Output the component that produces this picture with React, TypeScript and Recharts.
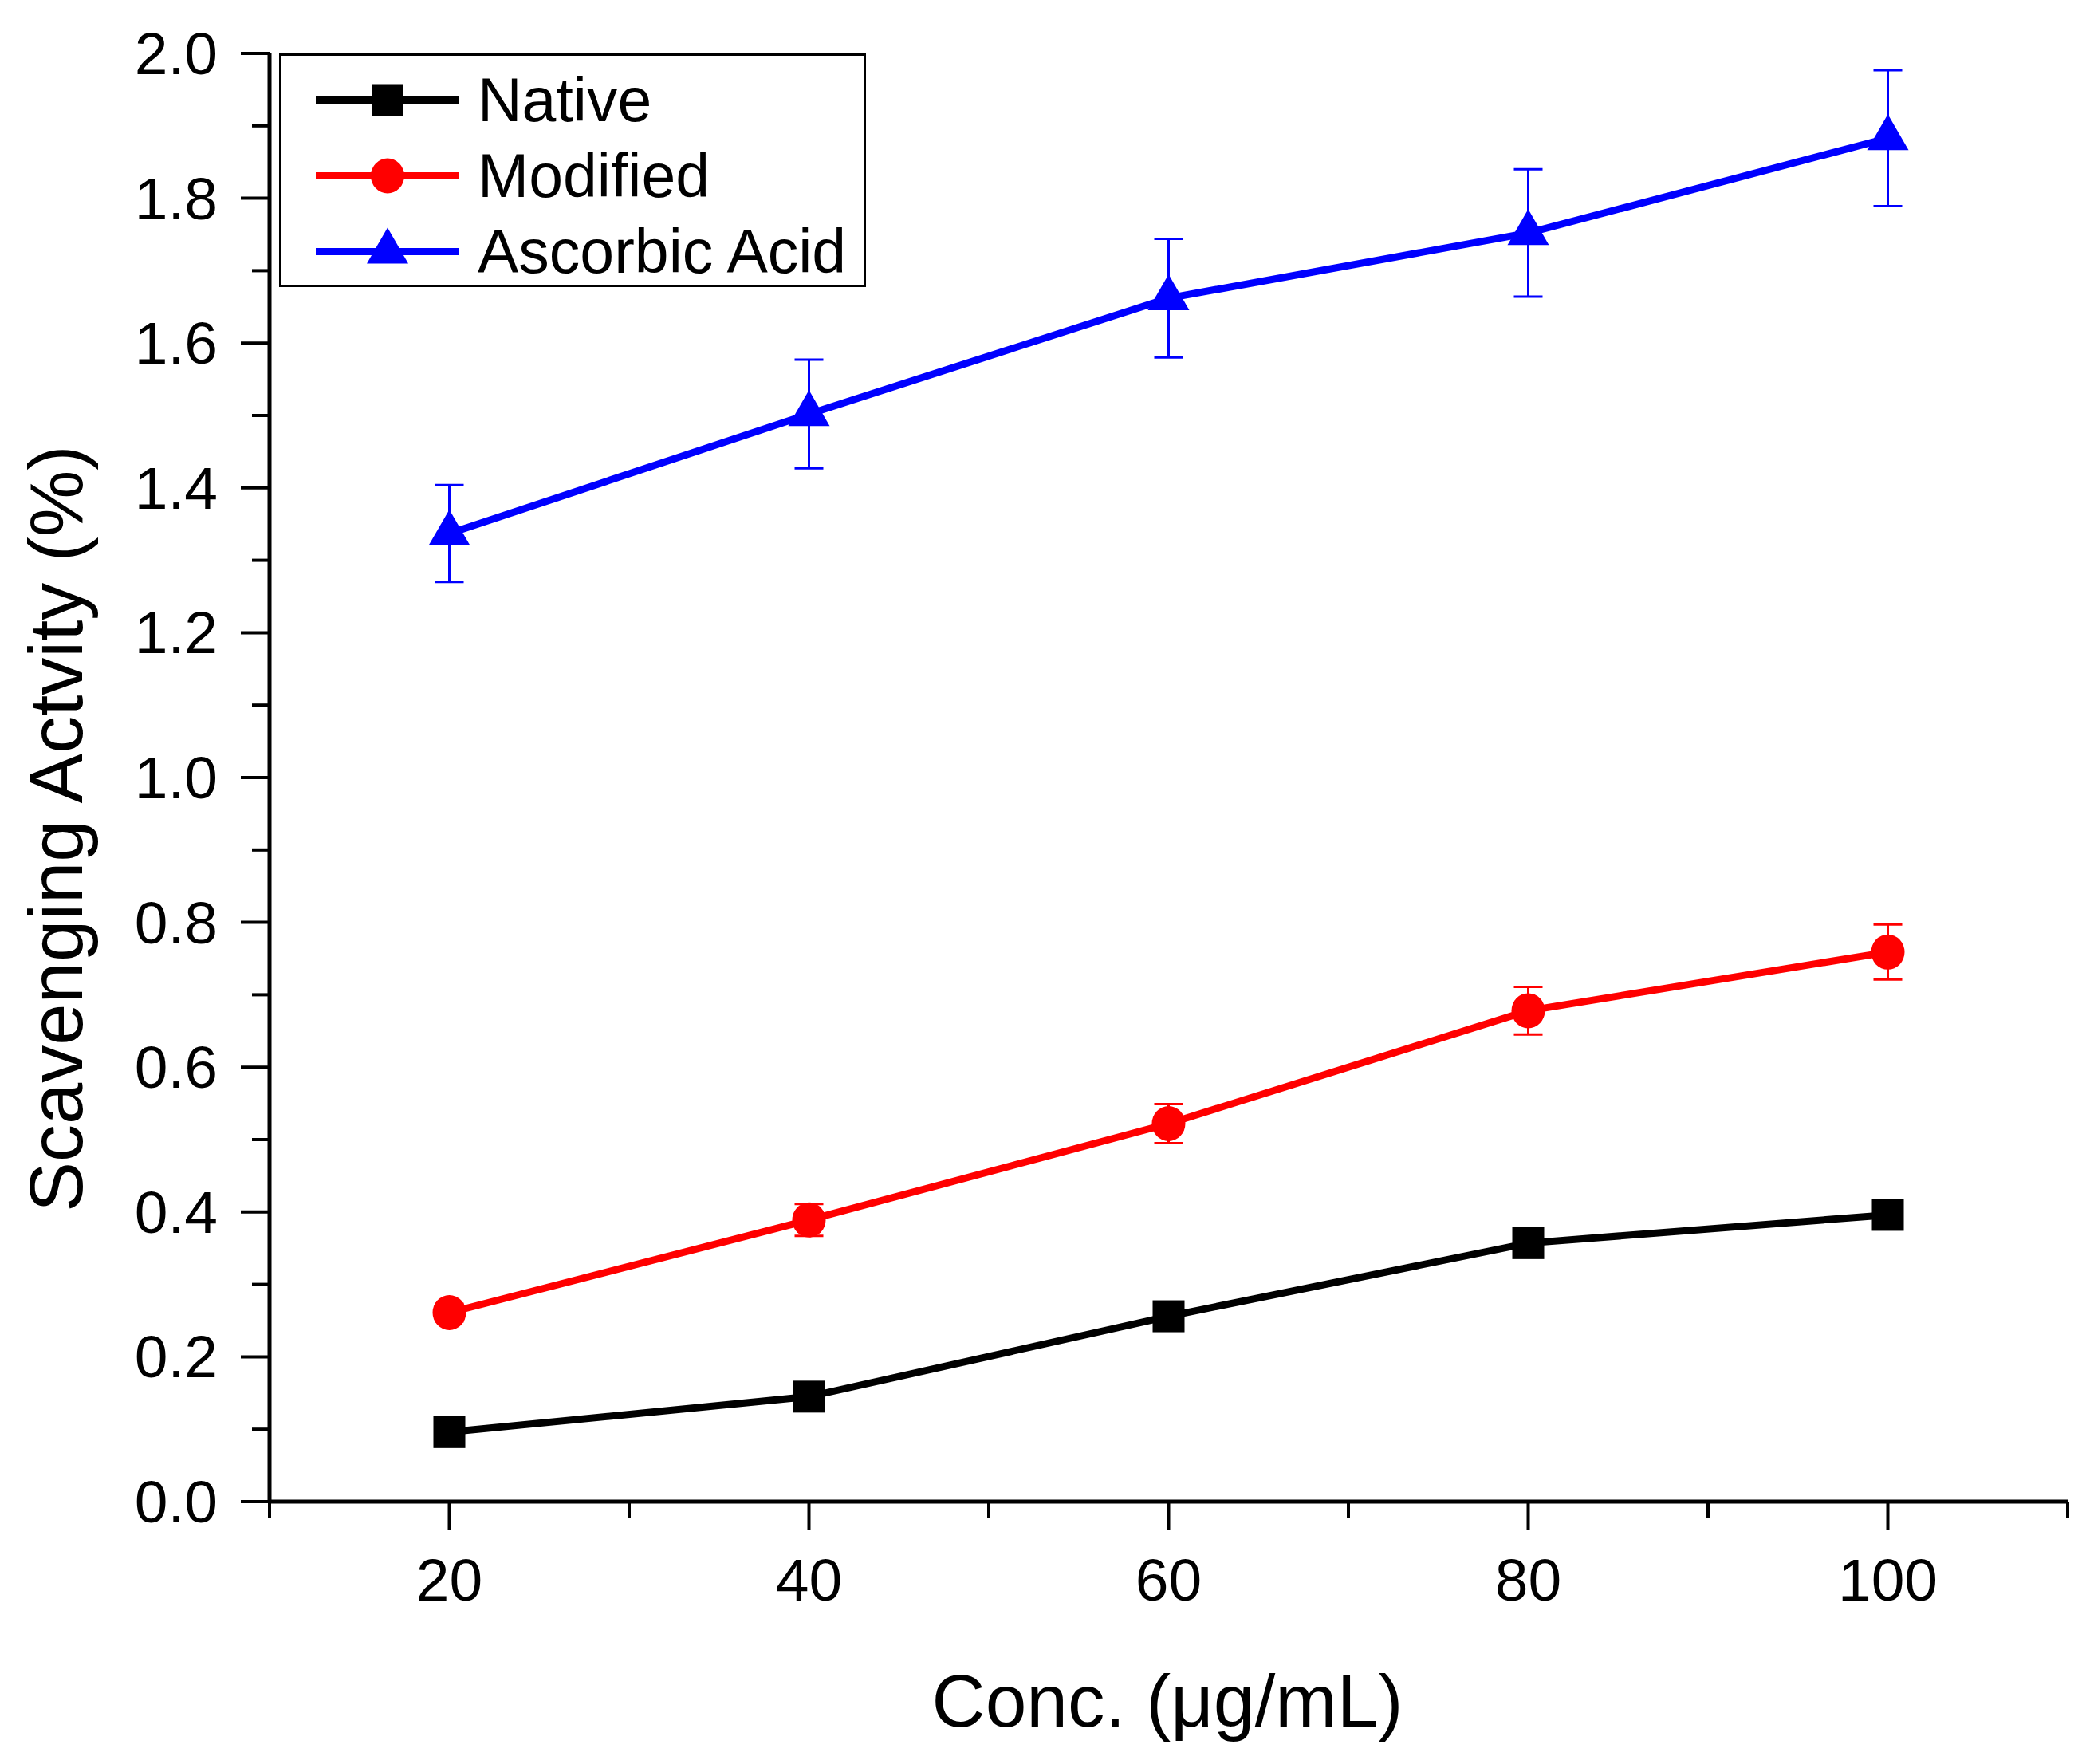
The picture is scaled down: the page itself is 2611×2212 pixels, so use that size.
import React from 'react';
import {
  LineChart,
  Line,
  XAxis,
  YAxis,
  ErrorBar,
  Legend,
} from 'recharts';

// Scavenging activity vs concentration
const concentrations = [20, 40, 60, 80, 100];
const nativeValues = [0.096, 0.145, 0.256, 0.357, 0.396];
const modifiedValues = [0.261, 0.389, 0.522, 0.678, 0.759];
const modifiedErrors = [0.012, 0.022, 0.027, 0.033, 0.038];
const ascorbicValues = [1.337, 1.502, 1.662, 1.752, 1.883];
const ascorbicErrors = [0.067, 0.075, 0.082, 0.088, 0.094];

const seriesOrder = ['native', 'modified', 'ascorbic'];
const xTicks = [10, 20, 30, 40, 50, 60, 70, 80, 90, 100, 110];
const xLabelled = [20, 40, 60, 80, 100];
const yTicks = [0, 0.1, 0.2, 0.3, 0.4, 0.5, 0.6, 0.7, 0.8, 0.9, 1.0, 1.1, 1.2, 1.3, 1.4, 1.5, 1.6, 1.7, 1.8, 1.9, 2.0];

const FONT = '"Liberation Sans", Arial, Helvetica, sans-serif';
const LINE_W = 9;

const data = concentrations.map((conc, i) => ({
  conc,
  native: nativeValues[i],
  modified: modifiedValues[i],
  modifiedErr: modifiedErrors[i],
  ascorbic: ascorbicValues[i],
  ascorbicErr: ascorbicErrors[i],
}));

const shapes: Record<string, string> = {
  native: 'square',
  modified: 'circle',
  ascorbic: 'triangle',
};

function Marker({ shape, cx, cy, color }: { shape: string; cx: number; cy: number; color: string }) {
  if (cx == null || cy == null) return null;
  if (shape === 'square') {
    return <rect x={cx - 20} y={cy - 20} width={40} height={40} fill={color} />;
  }
  if (shape === 'circle') {
    return <ellipse cx={cx} cy={cy} rx={21} ry={22} fill={color} />;
  }
  return (
    <polygon
      points={`${cx},${cy - 30} ${cx - 26},${cy + 15} ${cx + 26},${cy + 15}`}
      fill={color}
    />
  );
}

const makeDot = (key: string, color: string) => (props: any) => (
  <Marker key={`${key}-${props.index}`} shape={shapes[key]} cx={props.cx} cy={props.cy} color={color} />
);

function XTick({ x, y, payload }: any) {
  const major = xLabelled.includes(payload.value);
  return (
    <g>
      <line x1={x} x2={x} y1={y} y2={y + (major ? 36 : 20)} stroke="#000" strokeWidth={4} />
      {major && (
        <text x={x} y={y + 124} textAnchor="middle" fontSize={75} fontFamily={FONT} fill="#000">
          {payload.value}
        </text>
      )}
    </g>
  );
}

function YTick({ x, y, payload }: any) {
  const major = Math.round(payload.value * 10) % 2 === 0;
  return (
    <g>
      <line x1={x - (major ? 36 : 22)} x2={x} y1={y} y2={y} stroke="#000" strokeWidth={4} />
      {major && (
        <text x={x - 65} y={y + 26} textAnchor="end" fontSize={75} fontFamily={FONT} fill="#000">
          {payload.value.toFixed(1)}
        </text>
      )}
    </g>
  );
}

function LegendBox({ payload }: any) {
  const items = [...(payload || [])].sort(
    (a: any, b: any) => seriesOrder.indexOf(a.dataKey) - seriesOrder.indexOf(b.dataKey)
  );
  return (
    <div
      style={{
        boxSizing: 'border-box',
        width: 736,
        height: 293,
        border: '3px solid #000',
        background: '#fff',
        paddingTop: 8,
      }}
    >
      {items.map((entry: any) => (
        <div key={entry.value} style={{ display: 'flex', alignItems: 'center', height: 95 }}>
          <svg width={246} height={95} style={{ display: 'block' }}>
            <line x1={43} x2={222} y1={47.5} y2={47.5} stroke={entry.color} strokeWidth={LINE_W} />
            <Marker shape={shapes[entry.dataKey]} cx={133} cy={47.5} color={entry.color} />
          </svg>
          <span style={{ fontFamily: FONT, fontSize: 77, color: '#000', lineHeight: '95px' }}>
            {entry.value}
          </span>
        </div>
      ))}
    </div>
  );
}

export default function App() {
  return (
    <div style={{ width: 2611, height: 2212, background: '#fff' }}>
      <style>{'body{margin:0;background:#fff;}'}</style>
      <LineChart
        width={2611}
        height={2212}
        data={data}
        margin={{ top: 67, right: 18, left: 0, bottom: 0 }}
      >
        <XAxis
          dataKey="conc"
          type="number"
          domain={[10, 110]}
          ticks={xTicks}
          interval={0}
          height={329}
          tickSize={0}
          tickMargin={0}
          tick={<XTick />}
          axisLine={{ stroke: '#000', strokeWidth: 5 }}
          tickLine={false}
          label={{
            content: () => (
              <text x={1464} y={2165} textAnchor="middle" fontSize={93} fontFamily={FONT} fill="#000">
                Conc. (μg/mL)
              </text>
            ),
          }}
        />
        <YAxis
          type="number"
          domain={[0, 2]}
          ticks={yTicks}
          interval={0}
          width={338}
          tickSize={0}
          tickMargin={0}
          tick={<YTick />}
          axisLine={{ stroke: '#000', strokeWidth: 5 }}
          tickLine={false}
          label={{
            content: () => (
              <text
                x={103}
                y={1039}
                transform="rotate(-90, 103, 1039)"
                textAnchor="middle"
                fontSize={94}
                fontFamily={FONT}
                fill="#000"
              >
                Scavenging Actvity (%)
              </text>
            ),
          }}
        />
        <Legend
          layout="vertical"
          align="center"
          verticalAlign="middle"
          content={<LegendBox />}
          wrapperStyle={{ left: 350, top: 67, width: 736, height: 293 }}
        />
        <Line
          dataKey="native"
          name="Native"
          stroke="#000000"
          strokeWidth={LINE_W}
          dot={makeDot('native', '#000000')}
          activeDot={false}
          isAnimationActive={false}
        />
        <Line
          dataKey="modified"
          name="Modified"
          stroke="#ff0000"
          strokeWidth={LINE_W}
          dot={makeDot('modified', '#ff0000')}
          activeDot={false}
          isAnimationActive={false}
        >
          <ErrorBar dataKey="modifiedErr" direction="y" width={18} stroke="#ff0000" strokeWidth={3} />
        </Line>
        <Line
          dataKey="ascorbic"
          name="Ascorbic Acid"
          stroke="#0000ff"
          strokeWidth={LINE_W}
          dot={makeDot('ascorbic', '#0000ff')}
          activeDot={false}
          isAnimationActive={false}
        >
          <ErrorBar dataKey="ascorbicErr" direction="y" width={18} stroke="#0000ff" strokeWidth={3} />
        </Line>
      </LineChart>
    </div>
  );
}
